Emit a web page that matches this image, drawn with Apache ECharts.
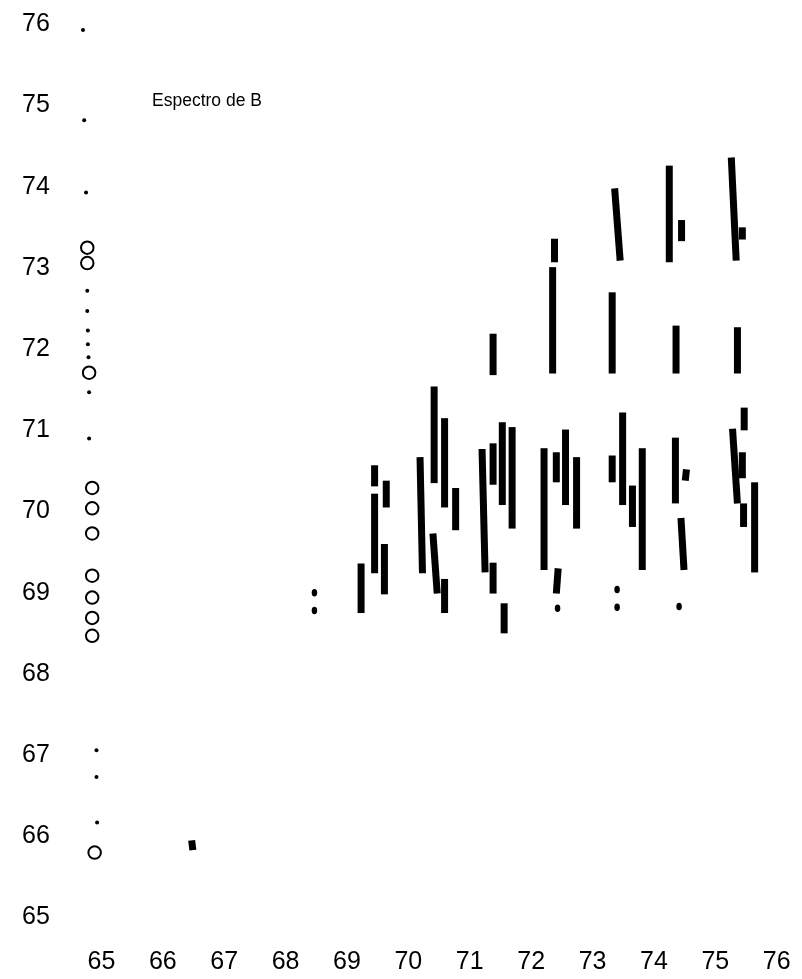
<!DOCTYPE html>
<html>
<head>
<meta charset="utf-8">
<script src="https://cdn.jsdelivr.net/npm/echarts@6/dist/echarts.min.js"></script>
<style>
html,body{margin:0;padding:0;background:#fff;}
#chart{width:802px;height:979px;}
</style>
</head>
<body>
<div id="chart"></div>
<script>
// ---- data ----
const chartTitle = "Espectro de B";
const xTickLabels = [65, 66, 67, 68, 69, 70, 71, 72, 73, 74, 75, 76];
const yTickLabels = [65, 66, 67, 68, 69, 70, 71, 72, 73, 74, 75, 76];

// vertical segments: [x at top, y top, x at bottom, y bottom]
const segments = [
  [69.23, 69.36, 69.23, 68.75],
  [69.45, 70.22, 69.45, 69.24],
  [69.45, 70.57, 69.45, 70.31],
  [69.64, 70.38, 69.64, 70.05],
  [69.61, 69.60, 69.61, 68.98],
  [70.19, 70.67, 70.23, 69.24],
  [70.42, 71.54, 70.42, 70.35],
  [70.40, 69.73, 70.47, 68.99],
  [70.59, 71.15, 70.59, 70.05],
  [70.59, 69.17, 70.59, 68.75],
  [70.77, 70.29, 70.77, 69.77],
  [71.20, 70.77, 71.25, 69.25],
  [71.38, 70.84, 71.38, 70.33],
  [71.38, 69.37, 71.38, 68.99],
  [71.53, 71.10, 71.53, 70.08],
  [71.56, 68.87, 71.56, 68.50],
  [71.69, 71.04, 71.69, 69.79],
  [71.38, 72.19, 71.38, 71.68],
  [72.21, 70.78, 72.21, 69.28],
  [72.41, 70.73, 72.41, 70.36],
  [72.44, 69.30, 72.41, 68.99],
  [72.56, 71.01, 72.56, 70.08],
  [72.74, 70.67, 72.74, 69.79],
  [72.35, 73.01, 72.35, 71.70],
  [72.38, 73.36, 72.38, 73.07],
  [73.32, 70.69, 73.32, 70.36],
  [73.49, 71.22, 73.49, 70.08],
  [73.65, 70.32, 73.65, 69.81],
  [73.81, 70.78, 73.81, 69.28],
  [73.32, 72.70, 73.32, 71.70],
  [73.36, 73.98, 73.45, 73.09],
  [74.25, 74.26, 74.25, 73.07],
  [74.45, 73.59, 74.45, 73.33],
  [74.36, 72.29, 74.36, 71.70],
  [74.35, 70.91, 74.35, 70.10],
  [74.53, 70.52, 74.51, 70.38],
  [74.44, 69.92, 74.49, 69.28],
  [75.26, 74.36, 75.34, 73.09],
  [75.44, 73.50, 75.44, 73.35],
  [75.36, 72.27, 75.36, 71.70],
  [75.47, 71.28, 75.47, 71.00],
  [75.28, 71.02, 75.36, 70.10],
  [75.44, 70.73, 75.44, 70.41],
  [75.46, 70.10, 75.46, 69.81],
  [75.64, 70.36, 75.64, 69.25],
  [66.47, 65.95, 66.49, 65.83]
];

// small filled blobs
const blobs = [
  [68.47, 69.00], [68.47, 68.78],
  [72.43, 68.81],
  [73.40, 69.04], [73.40, 68.82],
  [74.41, 68.83]
];

// open circles in the left column
const circles = [
  [64.77, 73.25], [64.77, 73.06], [64.80, 71.71],
  [64.85, 70.29], [64.85, 70.04], [64.85, 69.73],
  [64.85, 69.21], [64.85, 68.94], [64.85, 68.69], [64.85, 68.47],
  [64.89, 65.80]
];

// small dots in the left column
const dots = [
  [64.70, 75.93], [64.72, 74.82], [64.75, 73.93],
  [64.77, 72.72], [64.77, 72.47], [64.78, 72.23], [64.78, 72.06], [64.79, 71.90],
  [64.80, 71.47], [64.80, 70.90],
  [64.92, 67.06], [64.92, 66.73], [64.93, 66.17]
];

// ---- chart ----
const chart = echarts.init(document.getElementById('chart'), null, {renderer: 'canvas'});
const font = '"Liberation Sans", Arial, sans-serif';

chart.setOption({
  backgroundColor: '#ffffff',
  animation: false,
  title: {
    text: chartTitle,
    left: 152,
    top: 92,
    padding: 0,
    textStyle: {fontFamily: font, fontSize: 17.5, fontWeight: 'normal', color: '#000'}
  },
  grid: {left: 40, top: 0, width: 749, height: 950},
  xAxis: {
    type: 'value',
    min: 64, max: 76.2,
    axisLine: {show: false}, axisTick: {show: false}, splitLine: {show: false},
    axisLabel: {
      customValues: xTickLabels,
      margin: 0,
      fontFamily: font, fontSize: 25, color: '#000'
    }
  },
  yAxis: {
    type: 'value',
    min: 64.6, max: 76.3,
    axisLine: {show: false}, axisTick: {show: false}, splitLine: {show: false},
    axisLabel: {
      customValues: yTickLabels,
      align: 'left',
      margin: 18,
      fontFamily: font, fontSize: 25, color: '#000'
    }
  },
  series: [
    {
      type: 'custom',
      data: segments,
      encode: {x: [0, 2], y: [1, 3]},
      renderItem: function (params, api) {
        const p0 = api.coord([api.value(0), api.value(1)]);
        const p1 = api.coord([api.value(2), api.value(3)]);
        return {
          type: 'line',
          shape: {x1: p0[0], y1: p0[1], x2: p1[0], y2: p1[1]},
          style: {stroke: '#000', lineWidth: 7, lineCap: 'butt'}
        };
      }
    },
    {
      type: 'scatter',
      data: blobs,
      symbol: 'circle',
      symbolSize: [5.5, 7.5],
      itemStyle: {color: '#000', opacity: 1}
    },
    {
      type: 'scatter',
      data: circles,
      symbol: 'circle',
      symbolSize: 12.5,
      itemStyle: {color: '#fff', borderColor: '#000', borderWidth: 2, opacity: 1}
    },
    {
      type: 'scatter',
      data: dots,
      symbol: 'circle',
      symbolSize: 4,
      itemStyle: {color: '#000', opacity: 1}
    }
  ]
});
</script>
</body>
</html>
